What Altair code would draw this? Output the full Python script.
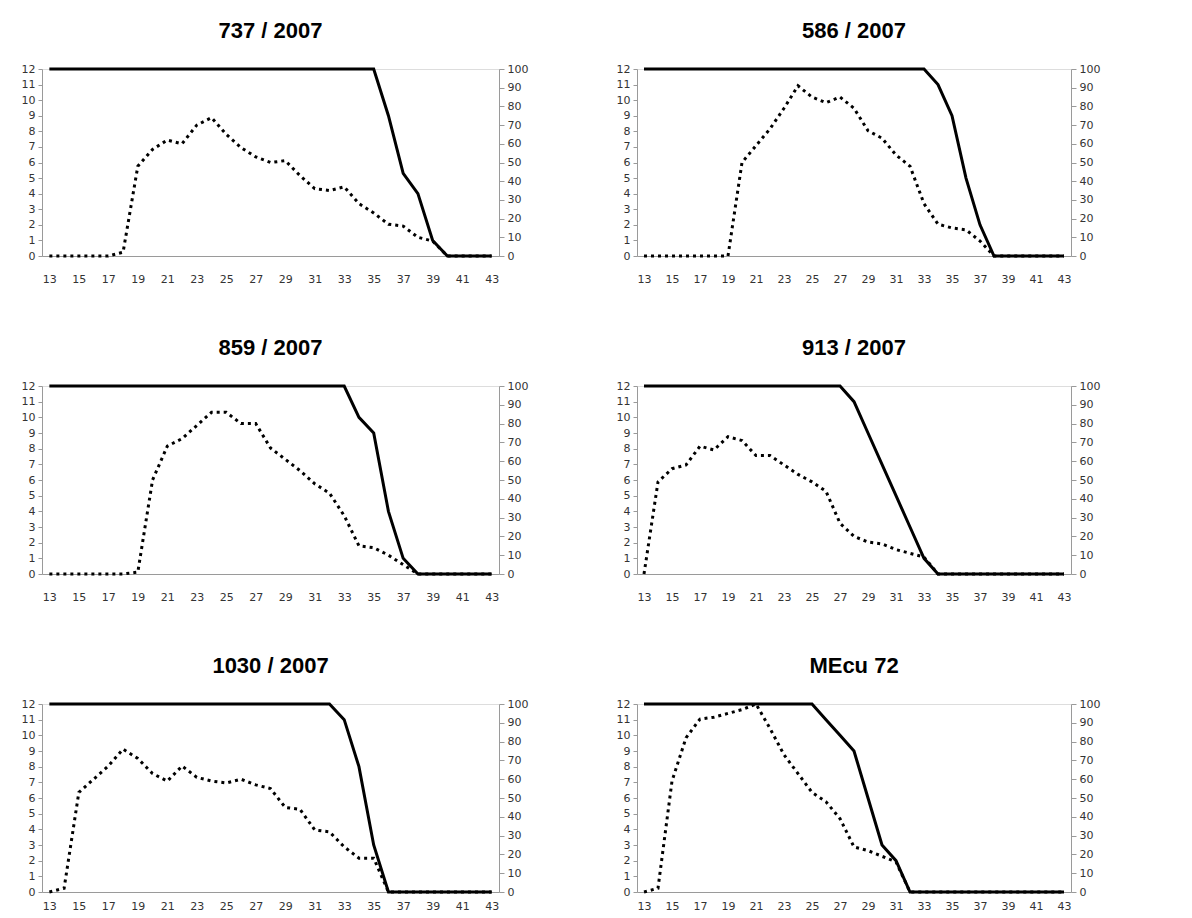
import altair as alt
import pandas as pd

x_vals = list(range(13, 44))

titles = ["737 / 2007", "586 / 2007", "859 / 2007", "913 / 2007", "1030 / 2007", "MEcu 72"]

solid_737 = [12]*23 + [9, 5.3, 4, 1, 0, 0, 0, 0]
dotted_737 = [0, 0, 0, 0, 0, 2, 48, 57, 62, 60, 70, 74, 65, 58, 53, 50, 51, 43, 36, 35, 37, 28, 23, 17, 16, 10, 8, 0, 0, 0, 0]

solid_586 = [12]*21 + [11, 9, 5, 2, 0, 0, 0, 0, 0, 0]
dotted_586 = [0]*7 + [50, 59, 68, 79, 91, 85, 82, 85, 79, 67, 63, 54, 48, 28, 17, 15, 14, 8, 0] + [0]*5

solid_859 = [12]*21 + [10, 9, 4, 1, 0, 0, 0, 0, 0, 0]
dotted_859 = [0]*6 + [1, 50, 68, 72, 79, 86, 86, 80, 80, 67, 61, 55, 48, 43, 31, 15, 14, 10, 5, 0] + [0]*5

solid_913 = [12]*15 + [11, 9, 7, 5, 3, 1, 0] + [0]*9
dotted_913 = [0, 49, 56, 58, 68, 66, 73, 71, 63, 63, 58, 53, 49, 44, 27, 20, 17, 16, 13, 11, 9, 0] + [0]*9

solid_1030 = [12]*20 + [11, 8, 3, 0] + [0]*7
dotted_1030 = [0, 2, 53, 60, 67, 76, 71, 63, 59, 67, 61, 59, 58, 60, 57, 55, 45, 44, 33, 32, 24, 18, 18, 0] + [0]*7

solid_mecu = [12]*13 + [11, 10, 9, 6, 3, 2, 0] + [0]*11
dotted_mecu = [0, 2, 59, 82, 92, 93, 95, 97, 100, 87, 73, 63, 53, 48, 39, 24, 22, 19, 16, 0] + [0]*11

series = [
    (solid_737, dotted_737),
    (solid_586, dotted_586),
    (solid_859, dotted_859),
    (solid_913, dotted_913),
    (solid_1030, dotted_1030),
    (solid_mecu, dotted_mecu),
]

AX = dict(domainColor="#9a9a9a", tickColor="#9a9a9a", labelColor="#333333",
          labelFont="DejaVu Sans", labelFontSize=11, grid=False, title=None)


def panel(idx, width, height, xpad):
    s, d = series[idx]
    df = pd.DataFrame({"x": x_vals, "solid": s, "dotted": d})
    base = alt.Chart(df)
    xenc = alt.X("x:Q", scale=alt.Scale(domain=[12.5, 43.5], nice=False, zero=False),
                 axis=alt.Axis(values=list(range(13, 44, 2)), ticks=False, labelPadding=xpad, **AX))
    solid = base.mark_line(color="black", strokeWidth=3).encode(
        x=xenc,
        y=alt.Y("solid:Q", scale=alt.Scale(domain=[0, 12], nice=False),
                axis=alt.Axis(orient="left", values=list(range(0, 13)), tickSize=4, labelPadding=3, **AX)),
    )
    dotted = base.mark_line(color="black", strokeWidth=3, strokeDash=[3, 4]).encode(
        x=xenc,
        y=alt.Y("dotted:Q", scale=alt.Scale(domain=[0, 100], nice=False),
                axis=alt.Axis(orient="right", values=list(range(0, 101, 10)), tickSize=5, labelPadding=3, **AX)),
    )
    return alt.layer(solid, dotted).resolve_scale(y="independent").properties(
        width=width, height=height,
        title=alt.TitleParams(titles[idx], font="Liberation Sans", fontSize=22, fontWeight="bold",
                              color="black", offset=20, anchor="middle"),
    )


row1 = alt.hconcat(panel(0, 457, 187, 17), panel(1, 434, 187, 17), spacing=86)
row2 = alt.hconcat(panel(2, 457, 188, 17), panel(3, 434, 188, 17), spacing=86)
row3 = alt.hconcat(panel(4, 457, 188, 8), panel(5, 434, 188, 8), spacing=86)

top = alt.vconcat(row1, row2, spacing=51)
chart = alt.vconcat(top, row3, spacing=51).configure_view(stroke=None).configure(
    padding={"left": 20, "top": 19, "right": 10, "bottom": 0}
)

chart.save("out.html", embed_options={"renderer": "svg", "actions": False})
